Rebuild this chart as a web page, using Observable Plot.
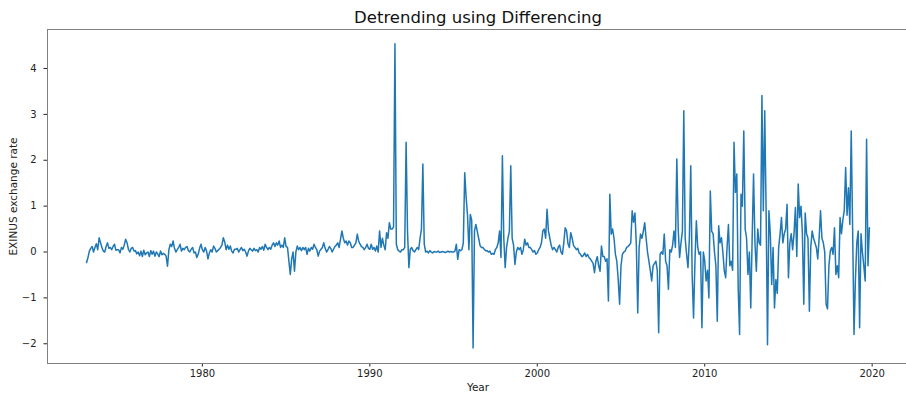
<!DOCTYPE html>
<html>
<head>
<meta charset="utf-8">
<script src="https://cdn.jsdelivr.net/npm/d3@7"></script>
<script src="https://cdn.jsdelivr.net/npm/@observablehq/plot@0.6"></script>
<style>
  html, body { margin: 0; padding: 0; background: #fff; overflow: hidden; }
  svg { display: block; }
</style>
</head>
<body>
<div id="chart"></div>
<script>
const title = "Detrending using Differencing";
const xLabel = "Year";
const yLabel = "EXINUS exchange rate";
const xTicks = [1980, 1990, 2000, 2010, 2020];
const yTicks = [-2, -1, 0, 1, 2, 3, 4];
const startYear = 1973;
const startMonth = 2; // first differenced value: Feb 1973

// Monthly first differences
const diff1970s = [
  -0.23, -0.12, 0.02, 0.08, 0.12, 0.0, 0.1, 0.18, 0.05, 0.31, 0.2,          // 1973 (Feb-Dec)
  0.1, 0.02, 0.0, 0.12, 0.2, 0.08, 0.1, 0.05, 0.12, 0.17, 0.04, 0.05,       // 1974
  0.05, -0.02, 0.1, 0.06, 0.15, 0.28, 0.2, 0.06, 0.0, 0.08, 0.1, 0.02,      // 1975
  0.03, -0.04, 0.0, -0.08, 0.02, -0.1, 0.04, -0.06, -0.02, 0.0, -0.1, 0.03, // 1976
  -0.05, 0.02, -0.09, 0.0, -0.04, -0.1, 0.02, -0.06, -0.03, -0.05, -0.09, -0.31, // 1977
  0.05, 0.17, 0.12, 0.24, 0.08, 0.0, 0.05, 0.1, 0.17, 0.02, 0.08, 0.05,     // 1978
  0.1, 0.12, 0.03, 0.0, 0.06, 0.1, -0.02, 0.0, -0.12, -0.05, 0.08, 0.17     // 1979
];
const diff1980s = [
  0.05, 0.0, 0.1, 0.02, -0.15, -0.02, 0.05, 0.0, 0.13, 0.08, 0.0, 0.03,     // 1980
  0.06, 0.1, 0.15, 0.31, 0.22, 0.05, 0.15, 0.06, 0.13, 0.02, -0.02, 0.06,   // 1981
  0.06, 0.08, 0.0, 0.05, 0.1, 0.03, 0.06, 0.0, -0.09, 0.02, 0.08, 0.05,     // 1982
  0.02, 0.08, 0.03, 0.05, 0.0, 0.1, 0.06, 0.12, 0.04, 0.17, 0.1, 0.05,      // 1983
  0.1, 0.06, 0.15, 0.2, 0.12, 0.2, 0.15, 0.24, 0.1, 0.15, 0.1, 0.31,        // 1984
  0.12, 0.1, -0.2, -0.49, -0.15, 0.0, -0.42, 0.0, 0.13, 0.05, 0.1, 0.03,    // 1985
  0.1, 0.05, 0.1, -0.05, 0.08, 0.02, 0.1, 0.06, 0.17, 0.1, 0.05, -0.09,     // 1986
  0.02, 0.06, 0.1, 0.2, 0.08, 0.0, 0.05, 0.12, 0.08, 0.0, 0.06, 0.12,       // 1987
  0.15, 0.2, 0.1, 0.28, 0.46, 0.3, 0.2, 0.24, 0.15, 0.24, 0.2, 0.1,         // 1988
  0.1, 0.15, 0.2, 0.39, 0.24, 0.17, 0.12, 0.1, 0.05, 0.1, 0.17, 0.08        // 1989
];
const diff1990s = [
  0.06, 0.17, 0.06, 0.1, 0.02, 0.13, 0.0, 0.46, 0.1, 0.3, 0.15, 0.05,       // 1990
  0.42, 0.3, 0.64, 0.5, 0.5, 0.55, 4.54, 0.17, 0.05, 0.02, 0.0, 0.05,       // 1991
  0.05, 0.1, 2.39, 0.46, -0.34, 0.06, 0.1, 0.03, 0.0, 0.05, 0.1, 0.05,      // 1992
  0.3, 0.5, 1.92, 0.17, 0.0, 0.02, -0.02, 0.03, 0.0, -0.02, 0.01, 0.0,      // 1993
  0.0, 0.02, -0.01, 0.0, 0.01, 0.0, -0.01, 0.0, 0.02, 0.0, 0.01, 0.0,       // 1994
  0.0, 0.02, 0.17, -0.16, 0.05, 0.03, 0.05, 0.2, 1.73, 1.2, 0.8, 0.05,      // 1995
  0.82, 0.7, -2.09, 0.46, 0.6, 0.45, 0.3, 0.14, 0.1, 0.1, 0.06, 0.03,      // 1996
  0.03, 0.0, 0.02, -0.05, -0.03, -0.05, 0.05, 0.1, 0.2, 0.46, -0.12, 2.1,   // 1997
  0.3, -0.34, 0.1, 0.3, 0.45, 1.88, 0.3, 0.15, -0.27, 0.0, 0.1, 0.05,       // 1998
  0.1, -0.05, 0.05, 0.28, 0.15, 0.2, 0.1, 0.1, 0.05, 0.0, 0.03, -0.05       // 1999
];
const diff2000s = [
  -0.02, 0.05, 0.1, 0.2, 0.46, 0.5, 0.3, 0.93, 0.46, 0.3, 0.14, 0.05,      // 2000
  0.1, 0.05, 0.0, 0.1, 0.15, 0.0, -0.05, 0.2, 0.53, 0.46, 0.18, 0.1,        // 2001
  0.42, 0.3, 0.14, 0.1, 0.05, 0.08, -0.02, -0.05, -0.1, -0.08, -0.02, -0.1, // 2002
  -0.05, -0.12, -0.15, -0.2, -0.25, -0.45, -0.2, -0.1, -0.3, -0.42, 0.13, -0.1, // 2003
  -0.1, -0.2, -0.15, -1.07, 1.26, 0.39, 0.5, 0.3, -0.05, -0.2, -0.6, -1.14, // 2004
  -0.3, -0.05, 0.0, 0.02, 0.1, 0.12, 0.15, 0.2, 0.9, 0.65, 0.85, 0.15,      // 2005
  -1.33, 0.1, 0.39, 0.3, 0.45, 0.64, 0.3, 0.0, -0.2, -0.4, -0.63, -0.3,     // 2006
  -0.25, -0.2, -0.4, -1.76, -0.05, 0.0, -0.05, 0.39, -0.2, -0.3, -0.81, 0.05, // 2007
  0.0, 0.15, 0.46, 0.1, 2.03, 0.5, -0.12, 0.2, 0.45, 3.08, 0.3, -0.05,      // 2008
  -0.34, 0.3, 1.88, -0.5, -1.44, -0.2, 0.68, 0.1, -0.05, 0.0, -1.65, 0.0    // 2009
];
const diff2010s = [
  -0.2, -0.63, -0.4, -1.0, 1.33, 0.45, 0.4, 0.0, -0.3, -1.51, 0.57, 0.2,    // 2010
  0.31, 0.0, -0.4, -0.56, 0.1, 0.6, -0.3, -0.2, -0.4, 2.39, 1.3, 1.7,       // 2011
  -0.8, -1.8, 1.26, 1.0, 2.64, 0.5, 0.3, -0.49, 0.0, -1.22, 0.3, 1.7,       // 2012
  0.2, -0.42, 0.5, 0.2, 0.15, 3.41, 0.9, 3.08, 0.9, -2.02, 0.9, 0.4,        // 2013
  -0.71, 0.1, -1.22, -0.6, -0.9, 0.1, 0.39, 0.75, 0.2, 0.4, 0.5, 1.04,      // 2014
  -0.56, 0.2, 0.4, 0.05, 0.4, 0.97, -0.1, 1.48, 0.75, 1.0, 0.4, -1.14,      // 2015
  0.85, 0.4, 0.3, -1.29, 0.1, 0.46, 0.3, 0.2, 0.1, -0.15, 0.3, 0.9,         // 2016
  0.3, 0.2, 0.0, -1.14, -1.24, -0.3, 0.02, 0.1, -0.05, 0.53, -0.49, -0.3,   // 2017
  -0.56, 0.75, 0.4, 0.7, 0.9, 1.84, 0.8, 1.4, 0.6, 2.64, 0.5, -1.8,         // 2018
  -0.6, 0.2, 0.46, -1.65, 0.4, 0.0, -0.3, -0.63, 2.46, -0.3, 0.53           // 2019 (Jan-Nov)
];

const values = [...diff1970s, ...diff1980s, ...diff1990s, ...diff2000s, ...diff2010s];
const data = values.map((v, i) => ({ t: startYear + (startMonth - 1 + i) / 12, v }));

const chart = Plot.plot({
  width: 906,
  height: 396,
  marginLeft: 47,
  marginRight: -2,
  marginTop: 29,
  marginBottom: 33,
  style: { fontFamily: "'DejaVu Sans', sans-serif", fontSize: "10px", color: "#222", background: "#fff" },
  x: { domain: [1970.75, 2022.17], ticks: xTicks, tickFormat: "d", tickSize: 3.5, tickPadding: 3, label: null },
  y: { domain: [-2.43, 4.85], ticks: yTicks, tickFormat: d => (d < 0 ? "\u2212" : "") + Math.abs(d), tickSize: 3.5, tickPadding: 7.5, label: null },
  marks: [
    Plot.frame({ stroke: "#808080" }),
    Plot.line(data, { x: "t", y: "v", stroke: "#1f77b4", strokeWidth: 1.5 }),
    Plot.text([title], { frameAnchor: "top", lineAnchor: "middle", dy: -12, fontSize: 16.5, fill: "#111" }),
    Plot.text([yLabel], { frameAnchor: "left", textAnchor: "middle", lineAnchor: "middle", dx: -34, rotate: -90, fontSize: 10.5, fill: "#222" }),
    Plot.text([xLabel], { frameAnchor: "bottom", lineAnchor: "middle", dy: 24, fontSize: 10.5, fill: "#222" })
  ]
});
document.getElementById("chart").appendChild(chart);
</script>
</body>
</html>
